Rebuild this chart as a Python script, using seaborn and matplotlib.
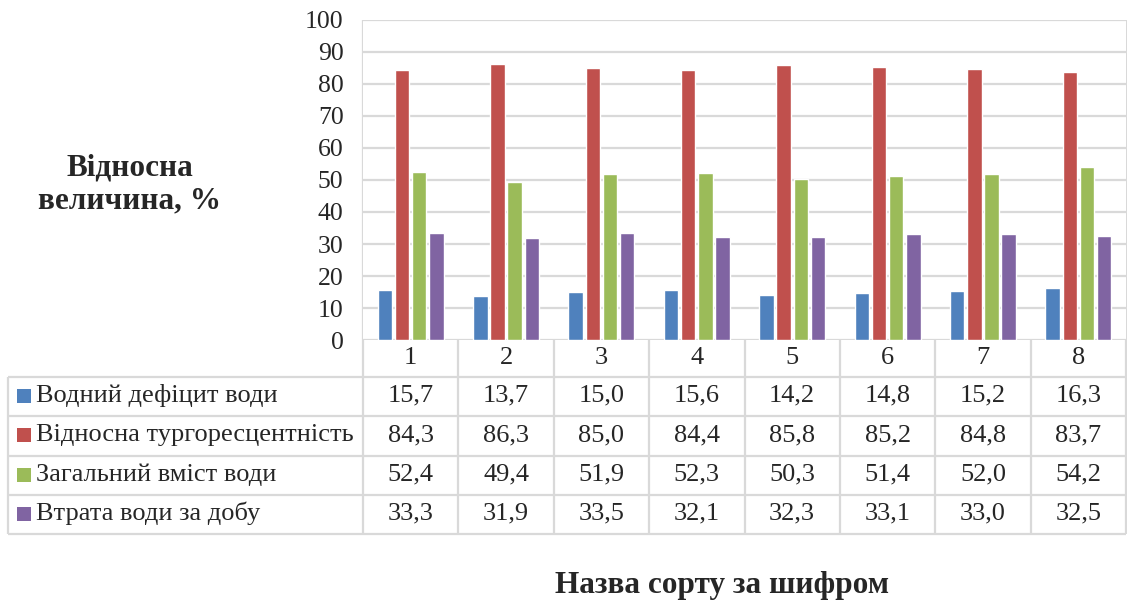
import matplotlib
matplotlib.use("Agg")
import matplotlib.pyplot as plt
from matplotlib.lines import Line2D
from matplotlib.patches import Rectangle
import seaborn as sns
import pandas as pd

# Variety codes and measured indicators (%)
varieties = ["1", "2", "3", "4", "5", "6", "7", "8"]
series_names = [
    "Водний дефіцит води",
    "Відносна тургоресцентність",
    "Загальний вміст води",
    "Втрата води за добу",
]
water_deficit = [15.7, 13.7, 15.0, 15.6, 14.2, 14.8, 15.2, 16.3]
turgescence = [84.3, 86.3, 85.0, 84.4, 85.8, 85.2, 84.8, 83.7]
water_content = [52.4, 49.4, 51.9, 52.3, 50.3, 51.4, 52.0, 54.2]
daily_loss = [33.3, 31.9, 33.5, 32.1, 32.3, 33.1, 33.0, 32.5]
y_ticks = [0, 10, 20, 30, 40, 50, 60, 70, 80, 90, 100]

colors = ["#4F81BD", "#C0504D", "#9BBB59", "#8064A2"]
grid_c = "#D9D9D9"
FS = 18.5
FS_TABLE = 19

all_series = [water_deficit, turgescence, water_content, daily_loss]
df = pd.DataFrame(
    [(v, name, val) for name, vals in zip(series_names, all_series)
     for v, val in zip(varieties, vals)],
    columns=["variety", "indicator", "value"],
)

sns.set_theme(style="white")
plt.rcParams["font.family"] = ["Liberation Serif", "DejaVu Serif"]

W, H = 1127, 601
fig = plt.figure(figsize=(W / 100, H / 100), dpi=100)


def fx(px):
    return px / W


def fy(py):
    return 1 - py / H


# plot area in pixel coordinates
L, R, T, B = 363, 1126, 20, 340
ax = fig.add_axes([fx(L), fy(B), fx(R) - fx(L), fy(T) - fy(B)])

sns.barplot(
    data=df, x="variety", y="value", hue="indicator", hue_order=series_names,
    order=varieties, palette=colors, width=0.72, gap=0.16, dodge=True,
    saturation=1, legend=False, ax=ax, errorbar=None,
)

ax.set_xlim(-0.5, len(varieties) - 0.5)
ax.set_ylim(0, 100)
ax.set_yticks(y_ticks)
ax.set_yticklabels([str(t) for t in y_ticks], fontsize=FS)
ax.set_xticks([])
ax.set_xlabel("")
ax.set_ylabel("")
ax.tick_params(axis="y", length=0, pad=14)
for s in ax.spines.values():
    s.set_visible(False)
for t in y_ticks:
    ax.axhline(t, color=grid_c, lw=1.6, zorder=0)

# table rows (pixel y of horizontal rules)
header_top, header_bot = B, 377
row_edges = [377, 416, 456, 495, 534]
table_left = 8
col_edges = [L + (R - L) * i / len(varieties) for i in range(len(varieties) + 1)]

# vertical rules through plot area and table
for xe in col_edges:
    fig.add_artist(Line2D([fx(xe), fx(xe)], [fy(T), fy(row_edges[-1])],
                          color=grid_c, lw=1.6, zorder=0,
                          solid_capstyle="butt"))
fig.add_artist(Line2D([fx(table_left), fx(table_left)],
                      [fy(row_edges[0]), fy(row_edges[-1])], color=grid_c,
                      lw=1.6, solid_capstyle="butt"))
for ye in row_edges:
    fig.add_artist(Line2D([fx(table_left), fx(R)], [fy(ye), fy(ye)],
                          color=grid_c, lw=1.6, solid_capstyle="butt"))

# category header
for i, v in enumerate(varieties):
    xc = (col_edges[i] + col_edges[i + 1]) / 2
    fig.text(fx(xc), fy((header_top + header_bot) / 2), v, ha="center",
             va="center", fontsize=FS_TABLE)

# data rows with legend keys
for r, (name, vals, c) in enumerate(zip(series_names, all_series, colors)):
    yc = (row_edges[r] + row_edges[r + 1]) / 2
    fig.add_artist(Rectangle((fx(17), fy(yc + 6)), fx(14), fy(0) - fy(14),
                             transform=fig.transFigure, color=c, lw=0))
    fig.text(fx(36), fy(yc - 1), name, ha="left", va="center",
             fontsize=FS_TABLE)
    for i, val in enumerate(vals):
        xc = (col_edges[i] + col_edges[i + 1]) / 2
        fig.text(fx(xc), fy(yc - 1), f"{val:.1f}".replace(".", ","),
                 ha="center", va="center", fontsize=FS_TABLE)

# axis titles
fig.text(fx(130), fy(168), "Відносна", ha="center", va="center",
         fontsize=22.5, fontweight="bold")
fig.text(fx(130), fy(201), "величина, %", ha="center", va="center",
         fontsize=22.5, fontweight="bold")
fig.text(fx(722), fy(585), "Назва сорту за шифром", ha="center", va="center",
         fontsize=22.5, fontweight="bold")

fig.savefig("out.png", dpi=100, facecolor="white")
